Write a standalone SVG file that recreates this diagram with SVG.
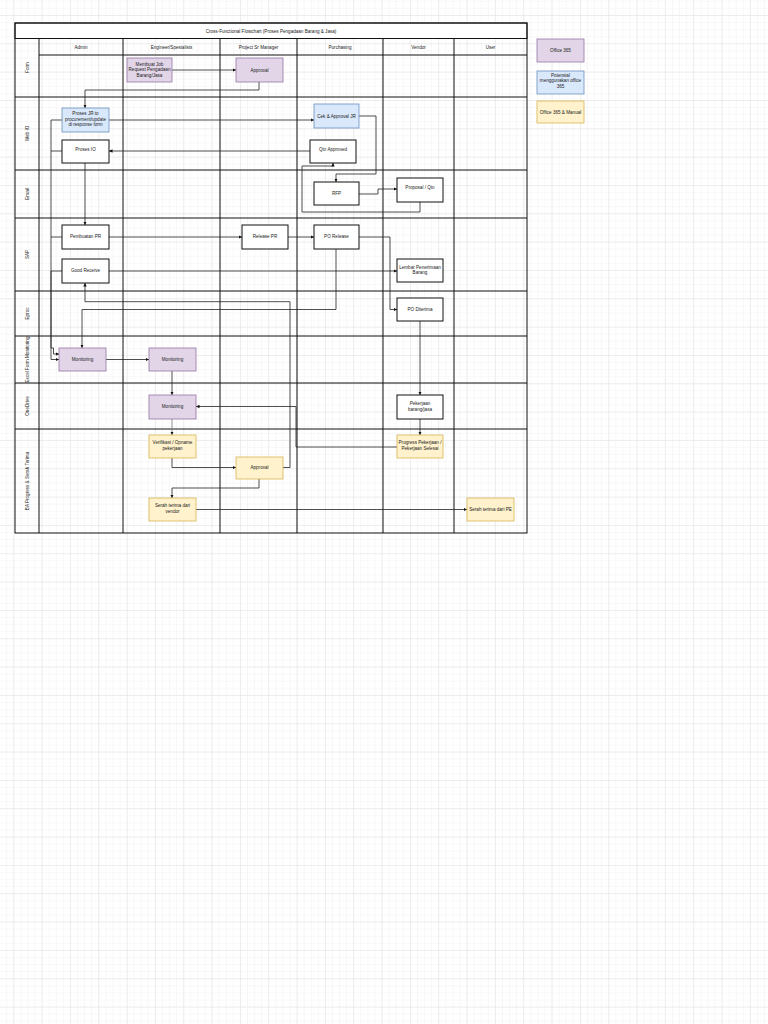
<svg xmlns="http://www.w3.org/2000/svg" width="768" height="1024" viewBox="0 0 768 1024">
<defs>
<pattern id="minor" patternUnits="userSpaceOnUse" x="13.3" y="15" width="7.083" height="7.083">
<path d="M0,0 H7.083 M0,0 V7.083" fill="none" stroke="#f1f1f1" stroke-width="1"/>
</pattern>
<pattern id="major" patternUnits="userSpaceOnUse" x="13.3" y="15" width="28.33" height="28.33">
<path d="M0,0 H28.33 M0,0 V28.33" fill="none" stroke="#e2e2e2" stroke-width="1"/>
</pattern>
<marker id="arr" markerUnits="userSpaceOnUse" markerWidth="4" markerHeight="4" refX="3.5" refY="2" orient="auto">
<path d="M0,0.3 L3.5,2 L0,3.7 Z" fill="#111"/>
</marker>
<style>
text{font-family:"Liberation Sans",Arial,sans-serif;font-size:4.6px;fill:#222;text-anchor:middle}
.tbl{fill:none;stroke:#111;stroke-width:1}
.purple{fill:#e1d5e7;stroke:#9673a6;stroke-width:0.8}
.blue{fill:#dae8fc;stroke:#6c8ebf;stroke-width:0.8}
.yellow{fill:#fff2cc;stroke:#d6b656;stroke-width:0.8}
.white{fill:#fff;stroke:#111;stroke-width:1}
.edge{fill:none;stroke:#222;stroke-width:0.8;marker-end:url(#arr)}
.plain{fill:none;stroke:#222;stroke-width:0.8}
</style>
</defs>
<rect width="768" height="1024" fill="#fff"/>
<rect width="768" height="1024" fill="url(#minor)"/>
<rect width="768" height="1024" fill="url(#major)"/>

<g id="table">
<rect x="15" y="23" width="512" height="15.5" fill="#fff" stroke="#111" stroke-width="1"/>
<text x="271" y="32.6">Cross-Functional Flowchart (Proses Pengadaan Barang &amp; Jasa)</text>
<rect class="tbl" x="15" y="23" width="512" height="510"/>
<path class="tbl" d="M39,38.5 V533 M123,38.5 V533 M220,38.5 V533 M297,38.5 V533 M383,38.5 V533 M454,38.5 V533"/>
<path class="tbl" d="M39,55 H527 M15,97 H527 M15,170 H527 M15,218 H527 M15,291 H527 M15,336 H527 M15,383 H527 M15,429 H527"/>
<text x="81" y="48.5">Admin</text>
<text x="171.5" y="48.5">Engineer/Spesialists</text>
<text x="258.5" y="48.5">Project Sr Manager</text>
<text x="340" y="48.5">Purchasing</text>
<text x="418.5" y="48.5">Vendor</text>
<text x="490.5" y="48.5">User</text>
<text transform="translate(28.6,67.5) rotate(-90)">Form</text>
<text transform="translate(28.6,133.5) rotate(-90)">Web IO</text>
<text transform="translate(28.6,194) rotate(-90)">Email</text>
<text transform="translate(28.6,254.5) rotate(-90)">SAP</text>
<text transform="translate(28.6,313.5) rotate(-90)">Eproc</text>
<text transform="translate(28.6,359.5) rotate(-90)">Excel Form Monitoring</text>
<text transform="translate(28.6,406) rotate(-90)">OneDrive</text>
<text transform="translate(28.6,481) rotate(-90)">BA Progress &amp; Serah Terima</text>
</g>

<g id="connectors">
<path class="edge" d="M172,70 H236"/>
<path class="edge" d="M259,82 V90 H85 V108"/>
<path class="edge" d="M109,120 H314"/>
<path class="edge" d="M62,120 H51 V359.5 H59"/>
<path class="plain" d="M62,151 H51"/>
<path class="plain" d="M62,237 H51"/>
<path class="edge" d="M62,271 H51 V348 H53.5 V354 H59"/>
<path class="edge" d="M85,163 V225"/>
<path class="edge" d="M310,151 H109"/>
<path class="edge" d="M359,116 H376 V174 H336 V182"/>
<path class="edge" d="M359,194 H378 V189 H397"/>
<path class="edge" d="M420,202 V212 H302 V166 H333 V163"/>
<path class="edge" d="M109,237 H242"/>
<path class="edge" d="M288,237 H314"/>
<path class="edge" d="M359,237 H390 V309.5 H397"/>
<path class="edge" d="M109,271 H397"/>
<path class="edge" d="M336,249 V309.5 H82 V348"/>
<path class="edge" d="M283,467.5 H290 V301.7 H85 V283"/>
<path class="edge" d="M397,447 H296 V406.5 H196"/>
<path class="edge" d="M106,359.5 H149"/>
<path class="edge" d="M172,371 V395"/>
<path class="edge" d="M172,419 V435" style="stroke:#777"/>
<path class="edge" d="M420,321 V395"/>
<path class="edge" d="M420,419 V435"/>
<path class="edge" d="M172,458 V467.5 H236"/>
<path class="edge" d="M259,479 V488 H172 V498"/>
<path class="edge" d="M196,509.5 H467"/>
</g>

<g id="n-membuat"><rect class="purple" x="127" y="58" width="45" height="24"/>
<text x="149.5" y="65.6">Membuat Job</text><text x="149.5" y="71.1">Request Pengadaan</text><text x="149.5" y="76.6">Barang/Jasa</text></g>
<g id="n-approval1"><rect class="purple" x="236" y="58" width="47" height="24"/><text x="259.5" y="71.6">Approval</text></g>
<g id="n-prosesjr"><rect class="blue" x="62" y="108" width="47" height="24"/>
<text x="85.5" y="115.1">Proses JR to</text><text x="85.5" y="120.6">procurement/update</text><text x="85.5" y="126.1">di response form</text></g>
<g id="n-prosesio"><rect class="white" x="62" y="140" width="47" height="23"/><text x="85.5" y="150.6">Proses IO</text></g>
<g id="n-cek"><rect class="blue" x="314" y="104" width="45" height="24"/><text x="336.5" y="117.6">Cek &amp; Approval JR</text></g>
<g id="n-qtn"><rect class="white" x="310" y="140" width="46" height="23"/><text x="333" y="150.6">Qtn Approved</text></g>
<g id="n-rfp"><rect class="white" x="314" y="182" width="45" height="23"/><text x="336.5" y="195.2">RFP</text></g>
<g id="n-proposal"><rect class="white" x="397" y="178" width="46" height="24"/><text x="420" y="189.2">Proposal / Qtn</text></g>
<g id="n-pembuatanpr"><rect class="white" x="62" y="225" width="47" height="24"/><text x="85.5" y="238.2">Pembuatan PR</text></g>
<g id="n-goodreceive"><rect class="white" x="62" y="259" width="47" height="24"/><text x="85.5" y="272.2">Good Receive</text></g>
<g id="n-releasepr"><rect class="white" x="242" y="225" width="46" height="24"/><text x="265" y="238.2">Release PR</text></g>
<g id="n-porelease"><rect class="white" x="314" y="225" width="45" height="24"/><text x="336.5" y="238.2">PO Release</text></g>
<g id="n-lembar"><rect class="white" x="397" y="259" width="46" height="23"/>
<text x="420" y="268.5">Lembar Penerimaan</text><text x="420" y="274.3">Barang</text></g>
<g id="n-poditerima"><rect class="white" x="397" y="298" width="46" height="23"/><text x="420" y="310.9">PO Diterima</text></g>
<g id="n-mon1"><rect class="purple" x="59" y="348" width="47" height="23"/><text x="82.5" y="361.1">Monitoring</text></g>
<g id="n-mon2"><rect class="purple" x="149" y="348" width="47" height="23"/><text x="172.5" y="361.1">Monitoring</text></g>
<g id="n-mon3"><rect class="purple" x="149" y="395" width="47" height="24"/><text x="172.5" y="407.6">Monitoring</text></g>
<g id="n-pekerjaan"><rect class="white" x="397" y="395" width="46" height="24"/>
<text x="420" y="405">Pekerjaan</text><text x="420" y="410.8">barang/jasa</text></g>
<g id="n-verifikasi"><rect class="yellow" x="149" y="435" width="47" height="23"/>
<text x="172.5" y="444.3">Verifikasi / Opname</text><text x="172.5" y="450.1">pekerjaan</text></g>
<g id="n-progress"><rect class="yellow" x="397" y="435" width="46" height="23"/>
<text x="420" y="444.3">Progress Pekerjaan /</text><text x="420" y="450.1">Pekerjaan Selesai</text></g>
<g id="n-approval2"><rect class="yellow" x="236" y="457" width="47" height="22"/><text x="259.5" y="469.1">Approval</text></g>
<g id="n-serahvendor"><rect class="yellow" x="149" y="498" width="47" height="23"/>
<text x="172.5" y="507.3">Serah terima dari</text><text x="172.5" y="513.1">vendor</text></g>
<g id="n-serahpe"><rect class="yellow" x="467" y="498" width="47" height="23"/><text x="490.5" y="511.1">Serah terima dari PE</text></g>

<g id="legend-office365"><rect class="purple" x="537" y="39" width="47" height="23"/><text x="560.5" y="52.1">Office 365</text></g>
<g id="legend-potensial"><rect class="blue" x="537" y="71" width="47" height="23"/>
<text x="560.5" y="76.9">Potensial</text><text x="560.5" y="82.4">menggunakan office</text><text x="560.5" y="87.9">365</text></g>
<g id="legend-manual"><rect class="yellow" x="537" y="101" width="47" height="22"/><text x="560.5" y="113.6">Office 365 &amp; Manual</text></g>
</svg>
